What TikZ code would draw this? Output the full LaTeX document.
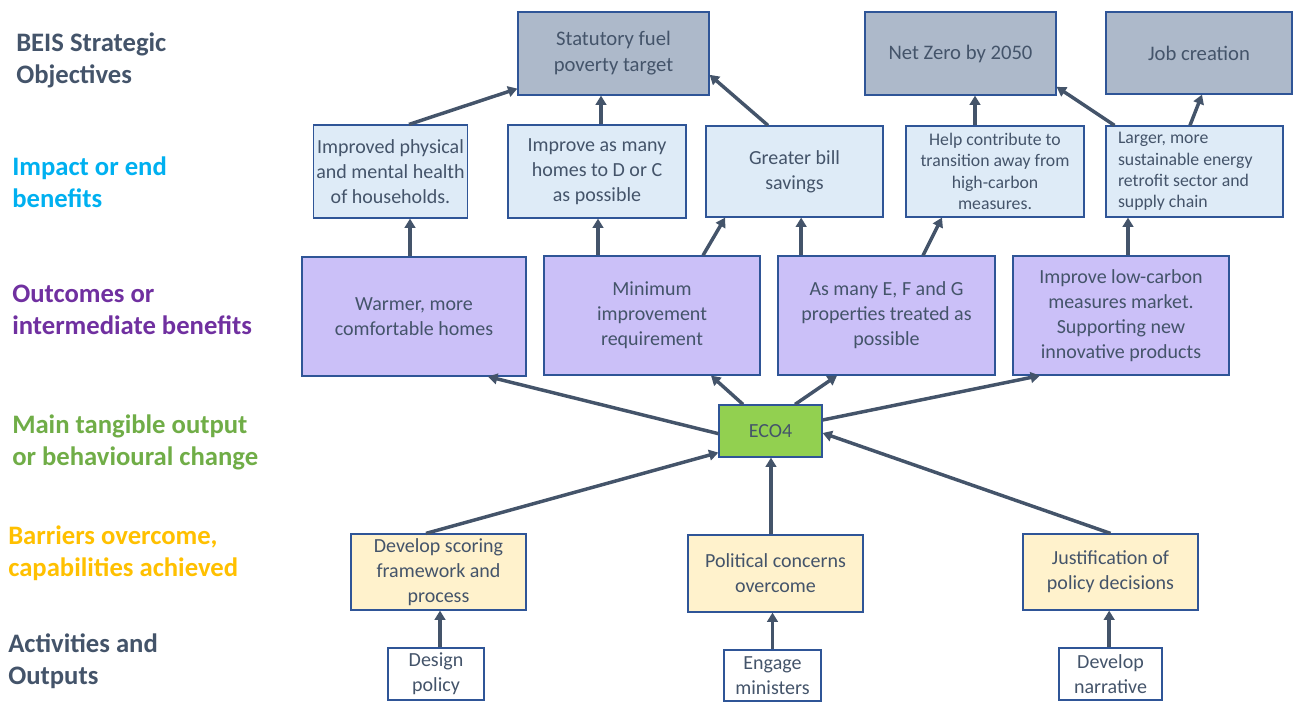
\documentclass[tikz,border=0pt]{standalone}
\usepackage{fontspec}
\setmainfont{Carlito}
\usepackage{xcolor}
\usetikzlibrary{arrows.meta,positioning}
\definecolor{slate}{HTML}{44546A}
\definecolor{edge}{HTML}{2F5597}
\definecolor{objfill}{HTML}{ADB9CA}
\definecolor{impfill}{HTML}{DEEBF7}
\definecolor{outfill}{HTML}{CBC0F8}
\definecolor{ecofill}{HTML}{92D050}
\definecolor{barfill}{HTML}{FFF2CC}
\definecolor{impact}{HTML}{00B0F0}
\definecolor{outcome}{HTML}{7030A0}
\definecolor{tangible}{HTML}{70AD47}
\definecolor{barrier}{HTML}{FFC000}

\begin{document}
\begin{tikzpicture}[x=0.75pt,y=-0.75pt,>={Triangle[length=7pt,width=8pt]},font=\fontsize{15}{18.75}\selectfont]
\tikzstyle{box}=[draw=edge, line width=0.9pt, align=center, text=slate, inner sep=2pt]
\tikzstyle{objbox}=[box, fill=objfill, font=\fontsize{15.5}{19.5}\selectfont]
\tikzstyle{impbox}=[box, fill=impfill]
\tikzstyle{smallbox}=[impbox, font=\fontsize{13.3}{16}\selectfont]
\tikzstyle{outbox}=[box, fill=outfill]
\tikzstyle{barbox}=[box, fill=barfill]
\tikzstyle{actbox}=[box, fill=white]
\tikzstyle{level}=[anchor=west, inner sep=0pt, align=left, font=\fontsize{20}{24}\selectfont\bfseries]
\tikzstyle{link}=[->, draw=slate, line width=2.6pt]
\useasboundingbox (0,0) rectangle (1293,702);

% row labels
\node[level, text=slate] (lobj) at (16,60) {BEIS Strategic\\Objectives};
\node[level, text=impact] (limp) at (12,182) {Impact or end\\benefits};
\node[level, text=outcome] (lout) at (12,310) {Outcomes or\\intermediate benefits};
\node[level, text=tangible] (lmain) at (12,442) {Main tangible output\\or behavioural change};
\node[level, text=barrier] (lbar) at (8,553) {Barriers overcome,\\capabilities achieved};
\node[level, text=slate] (lact) at (8,661) {Activities and\\Outputs};

% strategic objectives
\node[objbox, minimum width=143.25pt, minimum height=62.25pt] (stat) at (613.5,53.5) {Statutory fuel\\poverty target};
\node[objbox, minimum width=143.25pt, minimum height=62.25pt] (netzero) at (960.5,53.5) {Net Zero by 2050};
\node[objbox, minimum width=139.5pt, minimum height=61.5pt] (jobs) at (1199,53) {Job creation};

% impacts
\node[impbox, minimum width=114.75pt, minimum height=69.75pt] (health) at (390.5,171.5) {Improved physical\\and mental health\\of households.};
\node[impbox, minimum width=133.5pt, minimum height=69.75pt] (dorc) at (597,171.5) {Improve as many\\homes to D or C\\as possible};
\node[impbox, minimum width=132.75pt, minimum height=68.25pt] (bills) at (794.5,171.5) {Greater bill\\savings};
\node[smallbox, minimum width=133.5pt, minimum height=68.25pt] (transition) at (995,171.5) {Help contribute to\\transition away from\\high-carbon\\measures.};
\node[smallbox, minimum height=68.25pt, align=flush left, text width=114.75pt, inner xsep=9pt] (retrofit) at (1194.5,171.5) {Larger, more\\sustainable energy\\retrofit sector and\\supply chain};

% outcomes
\node[outbox, minimum width=168pt, minimum height=89.25pt] (warmer) at (414,316.5) {Warmer, more\\comfortable homes};
\node[outbox, minimum width=162pt, minimum height=89.25pt] (minimum) at (652,315.5) {Minimum\\improvement\\requirement};
\node[outbox, minimum width=162.75pt, minimum height=89.25pt] (efg) at (886.5,315.5) {As many E, F and G\\properties treated as\\possible};
\node[outbox, minimum width=162pt, minimum height=89.25pt] (lowcarbon) at (1121,315.5) {Improve low-carbon\\measures market.\\Supporting new\\innovative products};

% main output
\node[box, fill=ecofill, minimum width=77.25pt, minimum height=39pt] (eco) at (770.5,431) {ECO4};

% barriers
\node[barbox, minimum width=131.25pt, minimum height=57pt] (scoring) at (438.5,572) {Develop scoring\\framework and\\process};
\node[barbox, minimum width=131.25pt, minimum height=57.75pt] (political) at (775.5,573.5) {Political concerns\\overcome};
\node[barbox, minimum width=131.25pt, minimum height=57pt] (justify) at (1110.5,572) {Justification of\\policy decisions};

% activities
\node[actbox, minimum width=72pt, minimum height=39pt] (design) at (436,674) {Design\\policy};
\node[actbox, minimum width=72.75pt, minimum height=38.25pt] (engage) at (772.5,675.5) {Engage\\ministers};
\node[actbox, minimum width=77.25pt, minimum height=39pt] (narrative) at (1110.5,674) {Develop\\narrative};

% impacts -> objectives
\draw[link] ([xshift=13.9pt]health.north) -- ([yshift=5.25pt]stat.south west);
\draw[link] ([xshift=3pt]dorc.north) -- ([xshift=3pt]dorc.north |- stat.south);
\draw[link] ([xshift=-19.9pt]bills.north) -- ([yshift=-16pt]stat.east);
\draw[link] ([xshift=-15pt]transition.north) -- ([xshift=-15pt]transition.north |- netzero.south);
\draw[link] ([xshift=-60pt]retrofit.north) -- ([yshift=-25pt]netzero.east);
\draw[link] ([xshift=-3.4pt]retrofit.north) -- ([xshift=2.25pt]jobs.south);

% outcomes -> impacts
\draw[link] ([xshift=-3pt]warmer.north) -- ([xshift=-3pt]warmer.north |- health.south);
\draw[link] ([xshift=-40.5pt]minimum.north) -- ([xshift=-40.5pt]minimum.north |- dorc.south);
\draw[link] ([xshift=38.25pt]minimum.north) -- ([xshift=-52pt]bills.south);
\draw[link] ([xshift=-64pt]efg.north) -- ([xshift=-64pt]efg.north |- bills.south);
\draw[link] ([xshift=27.4pt]efg.north) -- ([xshift=-39.75pt]transition.south);
\draw[link] ([xshift=5.25pt]lowcarbon.north) -- ([xshift=5.25pt]lowcarbon.north |- retrofit.south);

% ECO4 -> outcomes
\draw[link] ([yshift=-2pt]eco.west) -- ([xshift=55.5pt]warmer.south);
\draw[link] ([xshift=-20.6pt]eco.north) -- ([xshift=44.25pt]minimum.south);
\draw[link] ([xshift=18.4pt]eco.north) -- ([xshift=-37.1pt]efg.south);
\draw[link] ([yshift=8.25pt]eco.east) -- ([xshift=-60.75pt]lowcarbon.south);

% barriers -> ECO4
\draw[link] ([xshift=-9.4pt]scoring.north) -- ([yshift=3.75pt]eco.south west);
\draw[link] ([xshift=-3.4pt]political.north) -- ([xshift=-3.4pt]political.north |- eco.south);
\draw[link] (justify.north) -- ([yshift=-1.5pt]eco.east);

% activities -> barriers
\draw[link] ([xshift=3pt]design.north) -- ([xshift=3pt]design.north |- scoring.south);
\draw[link] (engage.north) -- (engage.north |- political.south);
\draw[link] ([xshift=-1pt]narrative.north) -- ([xshift=-1pt]narrative.north |- justify.south);
\end{tikzpicture}
\end{document}
